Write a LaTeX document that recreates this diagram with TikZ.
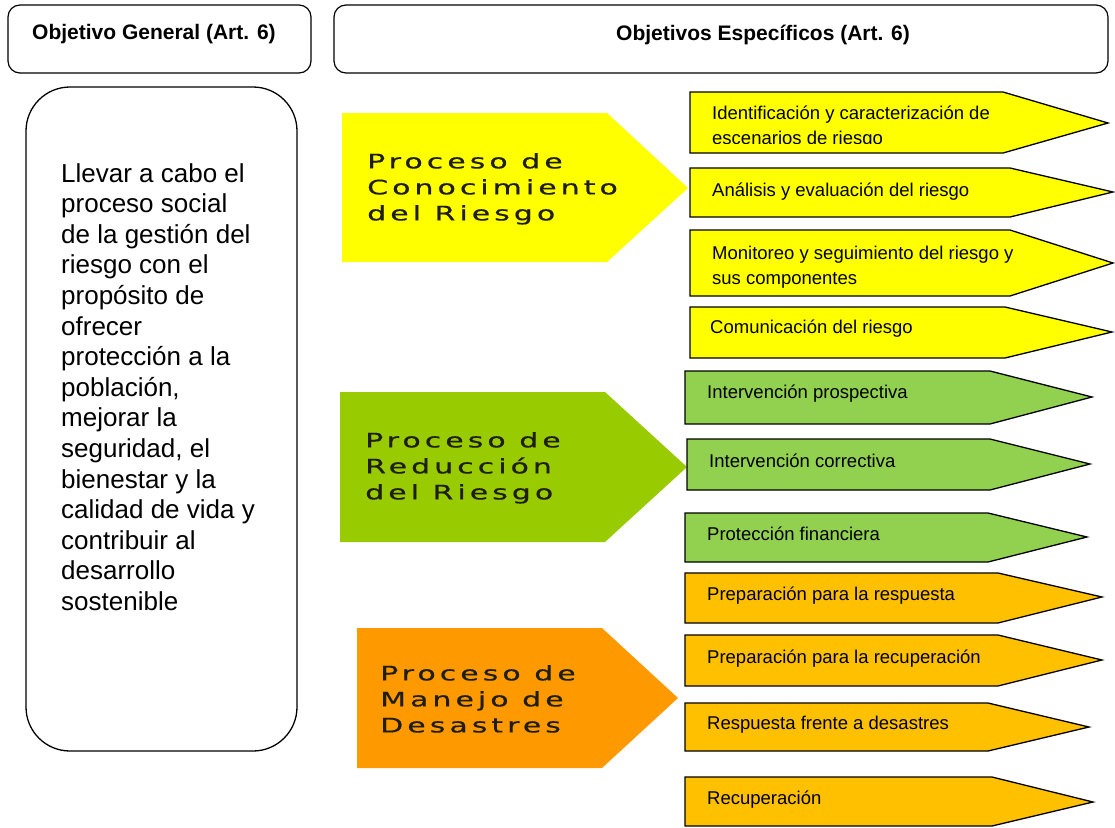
\documentclass[tikz,border=0pt]{standalone}
\usepackage{fontspec}
\setmainfont{Liberation Sans}
\newfontfamily\procfont[FakeStretch=1.5,LetterSpace=20,FakeBold=0.5]{DejaVu Sans}
\definecolor{amarillo}{HTML}{FFFF00}
\definecolor{verdeproc}{HTML}{99CC00}
\definecolor{verdeobj}{HTML}{92D050}
\definecolor{naranjaproc}{HTML}{FF9900}
\definecolor{naranjaobj}{HTML}{FFC000}
\definecolor{textoproc}{HTML}{1E1E0A}
\tikzset{headbox/.style={draw, line width=1.2pt, rounded corners=12pt},
    headtext/.style={anchor=base west, inner sep=0pt, font=\bfseries\fontsize{21}{25}\selectfont},
    flecha/.style={draw, line width=1.3pt, line join=miter},
    objtext/.style={anchor=north west, inner sep=0pt, align=left, font=\fontsize{18.5}{25}\selectfont},
    proctext/.style={anchor=north west, inner sep=0pt, align=left, text=textoproc, font=\procfont\fontsize{20}{26}\selectfont},
}

\begin{document}
\begin{tikzpicture}[x=1pt,y=-1pt]
\useasboundingbox (0,0) rectangle (1115,827);

% encabezados
\draw[headbox] (8,5) rectangle (311,73);
\draw[headbox] (334,5) rectangle (1108,73);
\node[headtext] (tgeneral) at (32,39) {Objetivo General (Art. 6)};
\node[headtext] (tespecif) at (616,40) {Objetivos Específicos (Art. 6)};

% objetivo general
\draw[line width=1.3pt, rounded corners=44pt] (26,87) rectangle (297,751);
\node[anchor=north west, inner sep=0pt, align=left, font=\fontsize{26}{30.6}\selectfont] (general) at (61,163)
    {Llevar a cabo el\\proceso social\\de la gestión del\\riesgo con el\\propósito de\\ofrecer\\protección a la\\población,\\mejorar la\\seguridad, el\\bienestar y la\\calidad de vida y\\contribuir al\\desarrollo\\sostenible};

% procesos
\fill[amarillo] (342,113) -- (607,113) -- (688,188) -- (607,262) -- (342,262) -- cycle;
\node[proctext] (conoc) at (367,153) {Proceso de\\Conocimiento\\del Riesgo};
\fill[verdeproc] (340,392) -- (605,392) -- (687,467) -- (605,542) -- (340,542) -- cycle;
\node[proctext] (reduc) at (365,432) {Proceso de\\Reducción\\del Riesgo};
\fill[naranjaproc] (357,628) -- (602,628) -- (678,698) -- (602,768) -- (357,768) -- cycle;
\node[proctext] (manejo) at (380,665) {Proceso de\\Manejo de\\Desastres};

% objetivos especificos: conocimiento
\draw[flecha, fill=amarillo] (690,92) -- (1003,92) -- (1108,123) -- (1003,153) -- (690,153) -- cycle;
\begin{scope}
\clip (690,92) rectangle (1003,143);
\node[objtext] (ident) at (712,106) {Identificación y caracterización de\\escenarios de riesgo};
\end{scope}
\draw[flecha, fill=amarillo] (690,168) -- (1010,168) -- (1113,192) -- (1010,217) -- (690,217) -- cycle;
\node[objtext] (analisis) at (712,183) {Análisis y evaluación del riesgo};
\draw[flecha, fill=amarillo] (690,230) -- (1010,230) -- (1113,263) -- (1010,296) -- (690,296) -- cycle;
\node[objtext] (monit) at (712,246) {Monitoreo y seguimiento del riesgo y\\sus componentes};
\draw[flecha, fill=amarillo] (690,307) -- (1005,307) -- (1112,332) -- (1005,358) -- (690,358) -- cycle;
\node[objtext] (comun) at (710,320) {Comunicación del riesgo};

% reduccion
\draw[flecha, fill=verdeobj] (685,371) -- (990,371) -- (1092,397) -- (990,424) -- (685,424) -- cycle;
\node[objtext] (prosp) at (707,385) {Intervención prospectiva};
\draw[flecha, fill=verdeobj] (687,439) -- (990,439) -- (1090,464) -- (990,490) -- (687,490) -- cycle;
\node[objtext] (correc) at (709,454) {Intervención correctiva};
\draw[flecha, fill=verdeobj] (685,513) -- (988,513) -- (1087,537) -- (988,562) -- (685,562) -- cycle;
\node[objtext] (financ) at (707,527) {Protección financiera};

% manejo de desastres
\draw[flecha, fill=naranjaobj] (685,573) -- (998,573) -- (1102,597) -- (998,623) -- (685,623) -- cycle;
\node[objtext] (prepresp) at (707,587) {Preparación para la respuesta};
\draw[flecha, fill=naranjaobj] (685,635) -- (998,635) -- (1102,660) -- (998,686) -- (685,686) -- cycle;
\node[objtext] (preprecu) at (707,650) {Preparación para la recuperación};
\draw[flecha, fill=naranjaobj] (685,703) -- (988,703) -- (1089,727) -- (988,751) -- (685,751) -- cycle;
\node[objtext] (respuesta) at (707,716) {Respuesta frente a desastres};
\draw[flecha, fill=naranjaobj] (685,777) -- (992,777) -- (1093,802) -- (992,826) -- (685,826) -- cycle;
\node[objtext] (recup) at (707,791) {Recuperación};
\end{tikzpicture}
\end{document}
